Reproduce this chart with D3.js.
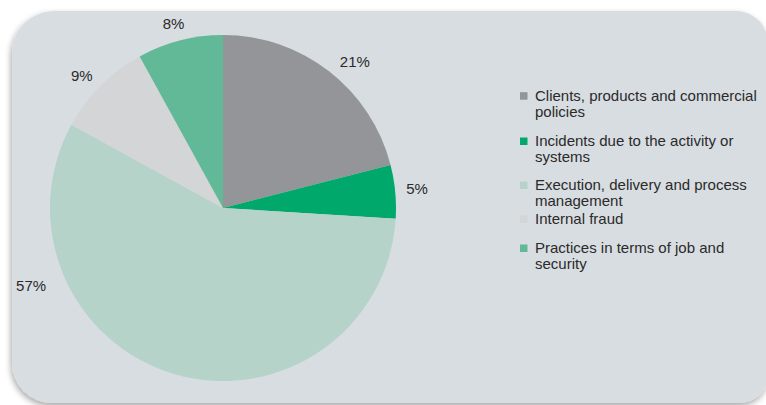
<!DOCTYPE html>
<html>
<head>
<meta charset="utf-8">
<script src="https://cdn.jsdelivr.net/npm/d3@7/dist/d3.min.js"></script>
<style>
  html, body { margin: 0; padding: 0; background: #ffffff; }
  svg { display: block; }
  text { font-family: "Liberation Sans", Arial, Helvetica, sans-serif; fill: #2a2a2a; }
</style>
</head>
<body>
<svg id="chart" width="766" height="405"></svg>
<script>
// Operational risk losses by event type (share of total, %)
const categories = [
  "Clients, products and commercial policies",
  "Incidents due to the activity or systems",
  "Execution, delivery and process management",
  "Internal fraud",
  "Practices in terms of job and security"
];
const values = [21, 5, 57, 9, 8];
const valueLabels = ["21%", "5%", "57%", "9%", "8%"];
const legendLines = [
  ["Clients, products and commercial", "policies"],
  ["Incidents due to the activity or", "systems"],
  ["Execution, delivery and process", "management"],
  ["Internal fraud"],
  ["Practices in terms of job and", "security"]
];

// Layout and styling
const colors = ["#939598", "#00a96b", "#b5d3c9", "#d3d5d7", "#62b998"];
const labelAngleDeg = [42, 84.5, 248, 313, 345];
const labelRadius = [197, 195, 207, 193, 191];
const legendBaselines = [100.7, 146, 190, 224, 253];

const svg = d3.select("#chart");

// Panel shadow
const defs = svg.append("defs");
const f = defs.append("filter").attr("id", "shadow")
  .attr("x", "-5%").attr("y", "-5%").attr("width", "110%").attr("height", "115%");
f.append("feDropShadow").attr("dx", -1).attr("dy", 3).attr("stdDeviation", 3)
  .attr("flood-color", "#000").attr("flood-opacity", 0.35);

// Rounded panel with different corner radii
function roundedPanel(x0, y0, x1, y1, rtl, rtr, rbr, rbl) {
  const p = d3.path();
  p.moveTo(x0 + rtl, y0);
  p.lineTo(x1 - rtr, y0);
  p.arcTo(x1, y0, x1, y0 + rtr, rtr);
  p.lineTo(x1, y1 - rbr);
  p.arcTo(x1, y1, x1 - rbr, y1, rbr);
  p.lineTo(x0 + rbl, y1);
  p.arcTo(x0, y1, x0, y1 - rbl, rbl);
  p.lineTo(x0, y0 + rtl);
  p.arcTo(x0, y0, x0 + rtl, y0, rtl);
  p.closePath();
  return p.toString();
}
svg.append("path")
  .attr("d", roundedPanel(12, 11, 768, 403, 42, 32, 28, 40))
  .attr("fill", "#d8dde1")
  .attr("filter", "url(#shadow)");

// Pie
const cx = 223, cy = 208, R = 173;
const pie = d3.pie().sort(null).value(d => d)(values);
const arc = d3.arc().innerRadius(0).outerRadius(R);
const g = svg.append("g").attr("transform", `translate(${cx},${cy})`);
g.selectAll("path.slice")
  .data(pie)
  .join("path")
  .attr("class", "slice")
  .attr("d", arc)
  .attr("fill", (d, i) => colors[i]);

// Value labels
g.selectAll("text.val")
  .data(pie)
  .join("text")
  .attr("class", "val")
  .attr("x", (d, i) => labelRadius[i] * Math.sin(labelAngleDeg[i] * Math.PI / 180))
  .attr("y", (d, i) => -labelRadius[i] * Math.cos(labelAngleDeg[i] * Math.PI / 180) + 5)
  .attr("text-anchor", "middle")
  .attr("font-size", 15)
  .text((d, i) => valueLabels[i]);

// Legend
const legend = svg.append("g");
const items = legend.selectAll("g.item")
  .data(categories)
  .join("g")
  .attr("class", "item")
  .attr("transform", (d, i) => `translate(520,${legendBaselines[i]})`);
items.append("rect")
  .attr("x", 0).attr("y", -8.5)
  .attr("width", 7.5).attr("height", 7.5)
  .attr("fill", (d, i) => colors[i]);
items.each(function (d, i) {
  const t = d3.select(this).append("text")
    .attr("x", 15).attr("y", 0)
    .attr("font-size", 15);
  legendLines[i].forEach((line, j) => {
    t.append("tspan").attr("x", 15).attr("y", j * 16.3).text(line);
  });
});
</script>
</body>
</html>
